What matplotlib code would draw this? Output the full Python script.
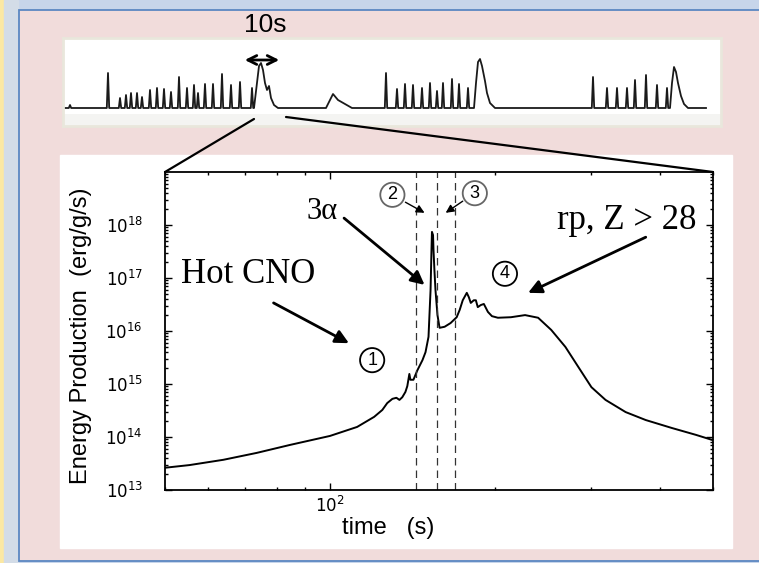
import matplotlib.pyplot as plt
from matplotlib.patches import Rectangle, ConnectionPatch
from matplotlib.ticker import LogLocator, NullFormatter

# main panel: energy production during one burst
time_s = [50, 55.4, 63.9, 73.5, 84.5, 100, 112.1, 120.4, 124.6, 127.2, 130.0, 132.2,
          133.9, 135.5, 137.3, 138.4, 139.6, 140.2, 142.0, 144.4, 147.5, 149.4, 151.3,
          151.9, 152.6, 153.2, 153.5, 154.2, 154.5, 155.1, 155.8, 157.1, 158.5, 161.9,
          166.0, 170.3, 172.5, 174.7, 177.7, 179.2, 180.7, 183.0, 184.6, 186.1, 188.5,
          190.9, 194.2, 197.5, 202.5, 213.9, 227.0, 239.8, 253.4, 268.9, 284.0, 300.0,
          318.3, 346.4, 376.9, 420.6, 465.5, 500]
log_energy = [13.42, 13.47, 13.57, 13.70, 13.85, 14.02, 14.19, 14.38, 14.51, 14.64, 14.72,
              14.74, 14.70, 14.75, 14.85, 14.96, 15.19, 15.08, 15.08, 15.26, 15.45, 15.60,
              15.89, 16.30, 16.77, 17.53, 17.87, 17.81, 17.53, 17.15, 16.77, 16.30, 16.06,
              16.08, 16.15, 16.26, 16.40, 16.58, 16.72, 16.64, 16.53, 16.58, 16.58, 16.45,
              16.49, 16.51, 16.36, 16.28, 16.25, 16.26, 16.30, 16.25, 16.02, 15.70, 15.32,
              14.94, 14.70, 14.47, 14.32, 14.17, 14.04, 13.94]
phase_times = [143.8, 157.1, 168.8]
ytick_vals = [1e13, 1e14, 1e15, 1e16, 1e17, 1e18]
ytick_text = ['$\\mathregular{10^{%d}}$' % e for e in range(13, 19)]

# strip: burst train (time in s, counts above baseline)
spike_t = [1.25, 10.75, 13.75, 15.25, 16.5, 18, 19.25, 21.25, 23, 24.75, 26.5, 28.5, 30.5,
           32.25, 33.25, 35, 37, 39.25, 41.5, 43.75, 46.75,
           80.25, 83, 85, 87, 89.25, 91.25, 93, 94.5, 96.75, 98.5, 100.75,
           132, 135.5, 138, 140.5, 142.5, 145.25, 148, 150.5]
spike_h = [3, 35, 10, 13, 15, 15, 11, 18, 20, 19, 16, 31, 20, 23, 15, 24, 24, 34, 23, 26, 20,
           35, 19, 24, 23, 20, 25, 17, 25, 29, 24, 20,
           31, 20, 20, 20, 28, 33, 23, 20]
long_t = [47.25, 48, 48.5, 49, 49.5, 50, 50.5, 51, 51.5, 52.25, 53.25,
          65.25, 67, 68.25, 70, 71.75,
          102.25, 102.75, 103.25, 103.75, 104.25, 105, 105.5, 106.25, 107.5,
          151.25, 151.75, 152.25, 152.75, 153.25, 154, 154.75, 155.75]
long_h = [0, 25, 42, 45, 38, 25, 18, 22, 10, 3, 0,
          0, 14, 8, 4, 0,
          0, 25, 46, 49, 42, 27, 15, 5, 0,
          0, 25, 41, 36, 25, 12, 4, 0]
strip_end = 160.25

fig = plt.figure(figsize=(7.59, 5.63), dpi=100)
fig.patch.set_facecolor('#c7d5ea')
W, H = 759, 563


def px_rect(x0, y0, x1, y1, **kw):
    return Rectangle((x0 / W, 1 - y1 / H), (x1 - x0) / W, (y1 - y0) / H,
                     transform=fig.transFigure, **kw)


fig.add_artist(px_rect(0, 0, 4, 563, color='#fbe8a3', zorder=-5))
fig.add_artist(px_rect(4, 0, 18, 563, color='#d3dce7', zorder=-5))
fig.add_artist(px_rect(19, 10, 770, 561, facecolor='#f1dcdb', edgecolor='#5b87c2', lw=1.3, zorder=-4))
fig.add_artist(px_rect(60, 155, 732, 548, color='white', zorder=-3))

# strip of bursts
sx = fig.add_axes([63 / W, 1 - 126 / H, 658 / W, 88 / H])
sx.set_facecolor('white')
pts = [(0.0, 0)]
for t, h in zip(spike_t, spike_h):
    pts += [(t - 0.3, 0), (t, h), (t + 0.3, 0)]
pts += list(zip(long_t, long_h))
pts.append((strip_end, 0))
pts.sort(key=lambda p: p[0])
sx.plot([p[0] for p in pts], [p[1] for p in pts], color='#1a1a1a', lw=1.3)
sx.axhspan(-18, -6, color='#f4f4f2', lw=0)
sx.set_xlim(-0.5, 164)
sx.set_ylim(-18, 70)
sx.set_xticks([])
sx.set_yticks([])
for s in sx.spines.values():
    s.set_color('#e9e7dc')
    s.set_linewidth(2)
sx.annotate('', xy=(54.25, 48), xytext=(44.25, 48),
            arrowprops=dict(arrowstyle='<->', lw=2, color='black', mutation_scale=16))
sx.text(50, 83, '10s', ha='center', va='center', fontsize=19,
        family='Liberation Sans', clip_on=False)

# main plot
ax = fig.add_axes([165 / W, 1 - 490 / H, 548 / W, 318 / H])
ax.plot(time_s, [10 ** v for v in log_energy], color='black', lw=1.4)
for t in phase_times:
    ax.axvline(t, color='#333333', lw=0.9, dashes=(6, 4))
ax.set_xscale('log')
ax.set_yscale('log')
ax.set_xlim(50, 500)
ax.set_ylim(1e13, 1e19)
ax.set_yticks(ytick_vals, labels=ytick_text)
ax.yaxis.set_minor_locator(LogLocator(subs=range(2, 10)))
ax.yaxis.set_minor_formatter(NullFormatter())
ax.xaxis.set_minor_formatter(NullFormatter())
ax.tick_params(which='both', direction='in', top=True, right=True, width=1)
ax.tick_params(which='major', length=5)
ax.tick_params(which='minor', length=2.5)
ax.tick_params(axis='y', which='major', pad=16, labelsize=12)
ax.tick_params(axis='x', which='major', pad=4, labelsize=12)
for s in ax.spines.values():
    s.set_linewidth(1.3)
ax.set_ylabel('Energy Production  (erg/g/s)', fontsize=17, family='Liberation Sans')
ax.set_xlabel('time   (s)', fontsize=17, family='Liberation Sans')
ax.yaxis.set_label_coords(-0.134, 0.484)
ax.xaxis.set_label_coords(0.407, -0.085)

serif = dict(family='Liberation Serif', color='black')
arrow = dict(arrowstyle='-|>', lw=2, color='black', mutation_scale=20, shrinkA=0, shrinkB=0)
ax.text(71.0, 1.15e17, 'Hot CNO', fontsize=25, ha='center', va='center', **serif)
ax.annotate('', xy=(108.3, 10 ** 15.77), xytext=(78.9, 10 ** 16.53), arrowprops=arrow)
ax.text(96.7, 10 ** 18.26, '3α', fontsize=22, ha='center', va='center', **serif)
ax.annotate('', xy=(148.8, 10 ** 16.87), xytext=(106.1, 10 ** 18.13), arrowprops=arrow)
ax.text(347.8, 10 ** 18.08, 'rp, Z > 28', fontsize=25, ha='center', va='center', **serif)
ax.annotate('', xy=(229.9, 10 ** 16.72), xytext=(376.9, 10 ** 17.77), arrowprops=arrow)

small = dict(arrowstyle='-|>', lw=1, color='black', mutation_scale=12, shrinkA=0, shrinkB=0)
ax.annotate('', xy=(148.8, 10 ** 18.23), xytext=(137.3, 10 ** 18.43), arrowprops=small)
ax.annotate('', xy=(162.6, 10 ** 18.23), xytext=(174.7, 10 ** 18.45), arrowprops=small)

circled = [('1', 119.4, 15.45, 'black'), ('2', 130.0, 18.57, '#666666'),
           ('3', 183.8, 18.60, '#666666'), ('4', 208.6, 17.08, 'black')]
for num, t, le, ec in circled:
    ax.text(t, 10 ** le, num, fontsize=13, ha='center', va='center', family='Liberation Sans',
            bbox=dict(boxstyle='circle,pad=0.2', fc='white', ec=ec, lw=1.3))

# zoom lines from the strip to the main plot
for xa, ya, xb in [(47.25, -11, 0), (55.25, -9, 1)]:
    con = ConnectionPatch(xyA=(xa, ya), coordsA=sx.transData, xyB=(xb, 1),
                          coordsB=ax.transAxes, color='black', lw=1.6, zorder=5)
    fig.add_artist(con)

fig.savefig('out.png', dpi=100)
